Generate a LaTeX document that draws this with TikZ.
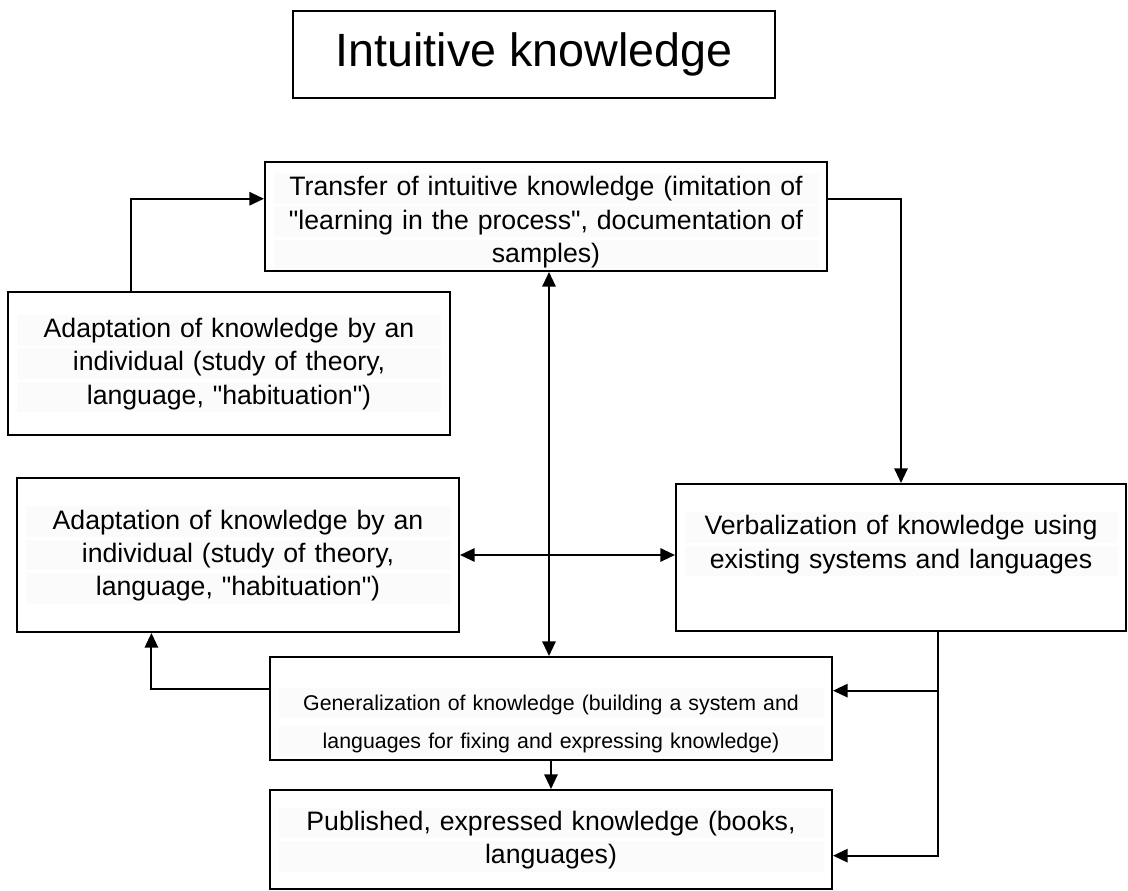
\documentclass[tikz,border=0pt]{standalone}
\usepackage{fontspec}
\setmainfont{Liberation Sans}
\usetikzlibrary{arrows.meta,calc,positioning}
\definecolor{bandgray}{RGB}{251,251,251}
\tikzset{
  >={Triangle[length=11pt,width=10pt]},
  flow/.style={->,draw=black,line width=1.5pt},
  twoway/.style={<->,draw=black,line width=1.5pt},
  kbox/.style={
    draw=black,
    rectangle,
    line width=1.5pt,
    inner xsep=6.375pt,
    inner ysep=0pt,
    align=center,
    font=\fontsize{20}{25}\selectfont
  },
  titlebox/.style={
    draw=black,
    rectangle,
    line width=1.2pt,
    minimum width=361.5pt,
    minimum height=65.25pt,
    font=\fontsize{35}{42}\selectfont
  }
}
\newcommand{\band}[1]{{\setlength{\fboxsep}{0pt}\colorbox{bandgray}{\makebox[\hsize]{\rule[-6pt]{0pt}{23pt}#1}}}}
\newcommand{\qt}{\textquotedbl}

\begin{document}
\begin{tikzpicture}[x=0.75pt,y=0.75pt,yscale=-1]
  \useasboundingbox (0,0) rectangle (1128,891);
  \fill[white] (0,0) rectangle (1128,891);

  % Heading
  \node[titlebox] (intuitive) at (534,54.5) {Intuitive knowledge};

  % Knowledge boxes
  \node[kbox,text width=408.75pt,minimum height=81.75pt] (transfer) at (546,216.5)
    {\par\band{Transfer of intuitive knowledge (imitation of}\\
     \band{\qt learning in the process\qt, documentation of}\\
     \band{samples)}};
  \node[kbox,text width=318.75pt,minimum height=107.25pt] (adapt1) at (229,363.5)
    {\band{Adaptation of knowledge by an}\\
     \band{individual (study of theory,}\\
     \band{language, \qt habituation\qt)}};
  \node[kbox,text width=318.75pt,minimum height=115.5pt] (adapt2) at (238,555)
    {\band{Adaptation of knowledge by an}\\
     \band{individual (study of theory,}\\
     \band{language, \qt habituation\qt)}};
  \node[kbox,text width=324.75pt,minimum height=110.25pt] (verbal) at (901,557.5)
    {\band{Verbalization of knowledge using}\\
     \band{existing systems and languages}\par\kern20pt};
  \node[kbox,text width=408.75pt,minimum height=77.25pt,
        font=\fontsize{16}{28.5}\selectfont] (gen) at (551,708.5)
    {\par\kern8.5pt\band{Generalization of knowledge (building a system and}\\
     \band{languages for fixing and expressing knowledge)}};
  \node[kbox,text width=408.75pt,minimum height=74.25pt] (published) at (551,839.5)
    {\band{Published, expressed knowledge (books,}\\
     \band{languages)}};

  % Transfer in and out
  \coordinate (upin) at ($(transfer.north west)!0.34!(transfer.south west)$);
  \coordinate (upout) at ($(transfer.north east)!0.34!(transfer.south east)$);
  \draw[flow] ($(adapt1.north west)!0.28!(adapt1.north east)$) |- (upin);
  \draw[flow] (upout) -| (verbal.north);

  % Two-way links
  \draw[twoway] ([xshift=2.25pt]transfer.south) -- ([xshift=2.25pt]transfer.south |- gen.north);
  \draw[twoway] (adapt2.east) -- (adapt2.east -| verbal.west);

  % Generalization feedback and output
  \draw[flow] ($(gen.north west)!0.31!(gen.south west)$)
    -| ($(adapt2.south west)!0.305!(adapt2.south east)$);
  \draw[flow] (gen.south) -- (published.north);

  % Bus from verbalization
  \coordinate (bustop) at ($(verbal.south west)!0.582!(verbal.south east)$);
  \coordinate (genin) at ($(gen.north east)!0.33!(gen.south east)$);
  \coordinate (pubin) at ($(published.north east)!0.66!(published.south east)$);
  \draw[flow] (bustop) |- (pubin);
  \draw[flow] (bustop |- genin) -- (genin);
\end{tikzpicture}
\end{document}
